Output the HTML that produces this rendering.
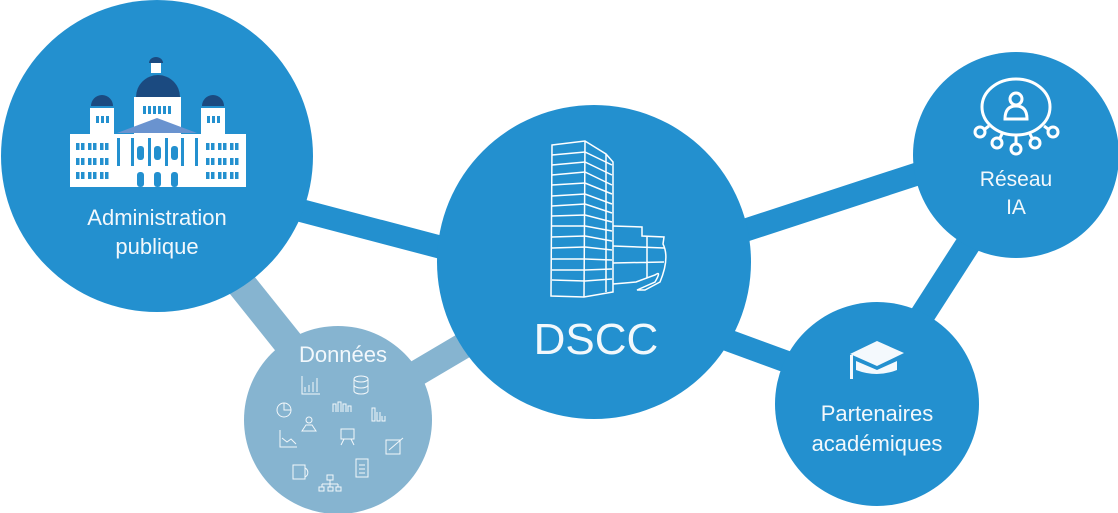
<!DOCTYPE html>
<html><head><meta charset="utf-8"><style>
html,body{margin:0;padding:0;background:#fff;}
svg{display:block;}
text{font-family:"Liberation Sans",sans-serif;fill:#f2f8fc;}
</style></head><body>
<svg width="1118" height="513" viewBox="0 0 1118 513" xmlns="http://www.w3.org/2000/svg">
<line x1="230" y1="270" x2="310" y2="370" stroke="#86b4d0" stroke-width="30"/>
<line x1="490" y1="330" x2="380" y2="395" stroke="#86b4d0" stroke-width="26"/>
<line x1="280" y1="205" x2="470" y2="255" stroke="#2390cf" stroke-width="23"/>
<line x1="700" y1="245" x2="960" y2="160" stroke="#2390cf" stroke-width="23"/>
<line x1="700" y1="330" x2="850" y2="385" stroke="#2390cf" stroke-width="22"/>
<line x1="990" y1="210" x2="900" y2="350" stroke="#2390cf" stroke-width="25"/>
<circle cx="157" cy="156" r="156" fill="#2390cf"/>
<circle cx="338" cy="420" r="94" fill="#86b4d0"/>
<circle cx="594" cy="262" r="157" fill="#2390cf"/>
<circle cx="1016" cy="155" r="103" fill="#2390cf"/>
<circle cx="877" cy="404" r="102" fill="#2390cf"/>

<g>
<rect x="70" y="134" width="176" height="53" fill="#fff"/>
<rect x="134" y="97" width="47" height="40" fill="#fff"/>
<path d="M136 97 A22 22 0 0 1 180 97 Z" fill="#1b4a80"/>
<rect x="151" y="63" width="10" height="10" fill="#fff"/>
<path d="M149 63 A7 6 0 0 1 163 63 Z" fill="#1b4a80"/>
<rect x="90" y="108" width="24" height="28" fill="#fff"/>
<path d="M91 106 A11 11 0 0 1 113 106 Z" fill="#1b4a80"/>
<rect x="201" y="108" width="24" height="28" fill="#fff"/>
<path d="M202 106 A11 11 0 0 1 224 106 Z" fill="#1b4a80"/>
<polygon points="117,133 157,118 197,133" fill="#6a93cf"/>
<g fill="#2390cf">
<rect x="143" y="106" width="3" height="8"/><rect x="148" y="106" width="3" height="8"/><rect x="153" y="106" width="3" height="8"/><rect x="158" y="106" width="3" height="8"/><rect x="163" y="106" width="3" height="8"/><rect x="168" y="106" width="3" height="8"/>
<rect x="96" y="116" width="3" height="7"/><rect x="101" y="116" width="3" height="7"/><rect x="106" y="116" width="3" height="7"/>
<rect x="207" y="116" width="3" height="7"/><rect x="212" y="116" width="3" height="7"/><rect x="217" y="116" width="3" height="7"/>
<rect x="117" y="138" width="3" height="28"/><rect x="131" y="138" width="3" height="28"/><rect x="148" y="138" width="3" height="28"/><rect x="165" y="138" width="3" height="28"/><rect x="181" y="138" width="3" height="28"/><rect x="195" y="138" width="3" height="28"/>
<rect x="137" y="146" width="7" height="14" rx="3"/><rect x="154" y="146" width="7" height="14" rx="3"/><rect x="171" y="146" width="7" height="14" rx="3"/>
<rect x="137" y="172" width="7" height="15" rx="3"/><rect x="154" y="172" width="7" height="15" rx="3"/><rect x="171" y="172" width="7" height="15" rx="3"/>
</g>
<g fill="#2390cf">
<g id="wrow">
<rect x="76" y="143" width="3.5" height="7"/><rect x="81" y="143" width="3.5" height="7"/>
<rect x="88" y="143" width="3.5" height="7"/><rect x="93" y="143" width="3.5" height="7"/>
<rect x="100" y="143" width="3.5" height="7"/><rect x="105" y="143" width="3.5" height="7"/>
<rect x="76" y="158" width="3.5" height="7"/><rect x="81" y="158" width="3.5" height="7"/>
<rect x="88" y="158" width="3.5" height="7"/><rect x="93" y="158" width="3.5" height="7"/>
<rect x="100" y="158" width="3.5" height="7"/><rect x="105" y="158" width="3.5" height="7"/>
<rect x="76" y="172" width="3.5" height="7"/><rect x="81" y="172" width="3.5" height="7"/>
<rect x="88" y="172" width="3.5" height="7"/><rect x="93" y="172" width="3.5" height="7"/>
<rect x="100" y="172" width="3.5" height="7"/><rect x="105" y="172" width="3.5" height="7"/>
</g>
<use href="#wrow" x="130"/>
</g>
</g>
<text x="157" y="225" font-size="22" text-anchor="middle">Administration</text>
<text x="157" y="254" font-size="22" text-anchor="middle">publique</text>

<g fill="none" stroke="#fff" stroke-width="1.5">
<polygon points="552,145 585,141 606,154 613,162 613,292 584,297 551,296"/>
<line x1="585" y1="141" x2="584" y2="297"/>
<line x1="606" y1="154" x2="606" y2="292"/>
<path d="M552,155 L585,152 L612,165 M552,165 L585,162 L612,175 M552,175 L585,172 L612,185 M552,185 L585,183 L612,194 M552,196 L585,194 L612,204 M552,206 L585,204 L612,213 M552,216 L585,215 L612,222 M552,226 L585,226 L612,231 M552,237 L585,236 L612,241 M552,248 L585,247 L612,250 M552,259 L585,259 L612,260 M552,270 L585,270 L612,269 M552,280 L585,281 L612,279"/>
<path d="M613,226 L642,227 L642,236 L664,237 L663,244 Q670,258 660,282 L645,290 L637,290 L655,282 Q662,270 655,275 L636,282 L625,283 L613,284"/>
<path d="M613,246 L664,248 M613,263 L664,262 M647,237 L647,278"/>
</g>
<text x="596" y="354" font-size="44" text-anchor="middle">DSCC</text>

<g fill="none" stroke="#fff" stroke-width="3">
<ellipse cx="1016" cy="107" rx="34" ry="28"/>
<circle cx="1016" cy="99" r="6"/>
<path d="M1005 119 Q1005 106 1016 106 Q1027 106 1027 119 Z"/>
<circle cx="980" cy="132" r="5"/><circle cx="997" cy="143" r="5"/><circle cx="1016" cy="149" r="5"/><circle cx="1035" cy="143" r="5"/><circle cx="1053" cy="132" r="5"/>
<line x1="985" y1="129" x2="989" y2="126"/><line x1="1000" y1="138" x2="1003" y2="132"/><line x1="1016" y1="144" x2="1016" y2="135"/><line x1="1032" y1="138" x2="1029" y2="132"/><line x1="1048" y1="129" x2="1044" y2="126"/>
</g>
<text x="1016" y="186" font-size="21" text-anchor="middle">Réseau</text>
<text x="1016" y="214" font-size="21" text-anchor="middle">IA</text>

<g fill="#f4f9fd">
<polygon points="850,354 877,341 904,353 877,366"/>
<path d="M856,361 L877,370 L897,361 L897,370 Q877,378 856,370 Z"/>
<rect x="850" y="355" width="3" height="24"/>
</g>
<text x="877" y="421" font-size="22" text-anchor="middle">Partenaires</text>
<text x="877" y="451" font-size="22" text-anchor="middle">académiques</text>

<text x="343" y="362" font-size="22" text-anchor="middle">Données</text>
<g fill="none" stroke="#fff" stroke-width="1" opacity="0.9">
<path d="M302,376 L302,394 L320,394 M305,392 v-5 M309,392 v-7 M313,392 v-10 M317,392 v-14"/>
<ellipse cx="361" cy="379" rx="7" ry="3"/><path d="M354,379 v12 a7,3 0 0 0 14,0 v-12 M354,385 a7,3 0 0 0 14,0"/>
<circle cx="284" cy="410" r="7"/><path d="M284,403 v7 h7"/>
<path d="M333,412 v-8 h3 v8 M338,412 v-10 h3 v10 M343,412 v-8 h3 v8 M348,412 v-6 h3 v6"/>
<path d="M372,408 v13 h3 v-13 z M377,412 v9 h3 v-9 M382,416 v5 h3 v-5"/>
<circle cx="309" cy="420" r="3"/><path d="M302,431 l4,-6 h6 l4,6 z"/>
<path d="M280,430 v17 h17 M282,438 l5,4 l4,-3 l5,5"/>
<rect x="341" y="429" width="13" height="10"/><path d="M344,439 l-3,6 M351,439 l3,6"/>
<rect x="386" y="440" width="14" height="14"/><path d="M389,450 l14,-12"/>
<rect x="293" y="465" width="12" height="14"/><path d="M305,468 a5,5 0 0 1 0,9"/>
<rect x="356" y="459" width="12" height="18"/><path d="M359,465 h6 M359,469 h6 M359,473 h6"/>
<rect x="327" y="475" width="6" height="5"/><path d="M330,480 v4 M322,484 h16 M322,484 v3 M330,484 v3 M338,484 v3"/>
<rect x="319" y="487" width="5" height="4"/><rect x="328" y="487" width="5" height="4"/><rect x="336" y="487" width="5" height="4"/>
</g>
</svg>
</body></html>
